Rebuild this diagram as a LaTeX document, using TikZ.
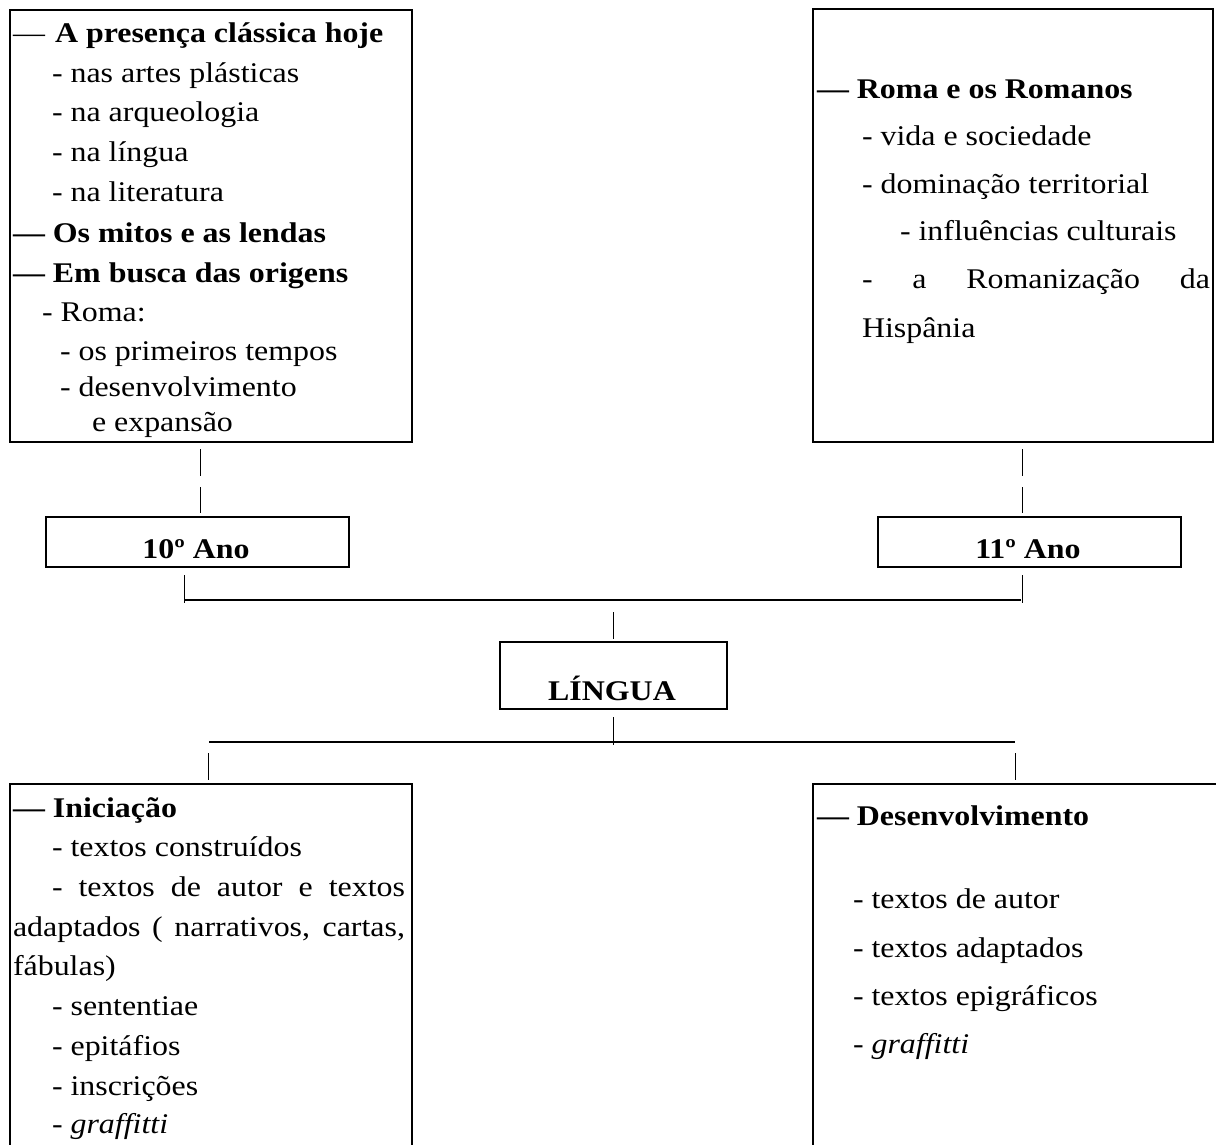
\documentclass[tikz,border=0pt]{standalone}
\usepackage{fontspec}
\setmainfont{Liberation Serif}[FakeStretch=1.12]
\begin{document}
\begin{tikzpicture}[x=1pt,y=-1pt,
  txt/.style={anchor=base west, inner sep=0pt, outer sep=0pt, font=\fontsize{28.5}{34}\selectfont},
  ctxt/.style={anchor=base, inner sep=0pt, outer sep=0pt, font=\fontsize{28.5}{34}\selectfont\bfseries},
  boxline/.style={line width=2pt},
  conn/.style={line width=0.9pt},
  bar/.style={line width=2pt}]
\useasboundingbox (0,0) rectangle (1216,1144);
% boxes
\draw[boxline] (10,10) rectangle (412,442);
\draw[boxline] (813,9) rectangle (1213,442);
\draw[boxline] (46,517) rectangle (349,567);
\draw[boxline] (878,517) rectangle (1181,567);
\draw[boxline] (500,642) rectangle (727,709);
\draw[boxline] (10,1150) -- (10,784) -- (412,784) -- (412,1150);
\draw[boxline] (813,1150) -- (813,784) -- (1220,784);
% top-left box text
\node[txt] (a0) at (13,42) {—};
\node[txt] (a1) at (55,42) {\bfseries A presença clássica hoje};
\node[txt] (a2) at (52,82) {- nas artes plásticas};
\node[txt] (a3) at (52,121) {- na arqueologia};
\node[txt] (a4) at (52,161) {- na língua};
\node[txt] (a5) at (52,201) {- na literatura};
\node[txt] (a6) at (13,242) {\bfseries — Os mitos e as lendas};
\node[txt] (a7) at (13,282) {\bfseries — Em busca das origens};
\node[txt] (a8) at (42,321) {- Roma:};
\node[txt] (a9) at (60,360) {- os primeiros tempos};
\node[txt] (a10) at (60,396) {- desenvolvimento};
\node[txt] (a11) at (92,431) {e expansão};
% top-right box text
\node[txt] (b1) at (817,98) {\bfseries — Roma e os Romanos};
\node[txt] (b2) at (862,145) {- vida e sociedade};
\node[txt] (b3) at (862,193) {- dominação territorial};
\node[txt] (b4) at (900,240) {- influências culturais};
\node[txt] (b5) at (862,288) {\makebox[348pt][s]{- a Romanização da}};
\node[txt] (b6) at (862,337) {Hispânia};
% year boxes
\node[ctxt] (y10) at (196,558) {10º Ano};
\node[ctxt] (y11) at (1028,558) {11º Ano};
\node[ctxt] (ling) at (612,700) {LÍNGUA};
% bottom-left text
\node[txt] (c1) at (13,817) {\bfseries — Iniciação};
\node[txt] (c2) at (52,856) {- textos construídos};
\node[txt] (c3) at (52,896) {\makebox[353pt][s]{- textos de autor e textos}};
\node[txt] (c4) at (13,936) {\makebox[392pt][s]{adaptados ( narrativos, cartas,}};
\node[txt] (c5) at (13,975) {fábulas)};
\node[txt] (c6) at (52,1015) {- sententiae};
\node[txt] (c7) at (52,1055) {- epitáfios};
\node[txt] (c8) at (52,1095) {- inscrições};
\node[txt] (c9) at (52,1133) {- \textit{graffitti}};
% bottom-right text
\node[txt] (d1) at (817,825) {\bfseries — Desenvolvimento};
\node[txt] (d2) at (853,908) {- textos de autor};
\node[txt] (d3) at (853,957) {- textos adaptados};
\node[txt] (d4) at (853,1005) {- textos epigráficos};
\node[txt] (d5) at (853,1053) {- \textit{graffitti}};
% connectors
\coordinate (p1a) at (200,449); \coordinate (p1b) at (200,476);
\coordinate (p1c) at (200,487); \coordinate (p1d) at (200,513);
\coordinate (p2a) at (1022,449); \coordinate (p2b) at (1022,476);
\coordinate (p2c) at (1022,487); \coordinate (p2d) at (1022,513);
\draw[conn] (p1a) -- (p1b) (p1c) -- (p1d);
\draw[conn] (p2a) -- (p2b) (p2c) -- (p2d);
\coordinate (t1l) at (184,575); \coordinate (b1l) at (184,603);
\coordinate (t1r) at (1022,575); \coordinate (b1r) at (1022,603);
\draw[conn] (t1l) -- (b1l);
\draw[conn] (t1r) -- (b1r);
\coordinate (h1l) at (185,600); \coordinate (h1r) at (1021,600);
\draw[bar] (h1l) -- (h1r);
\coordinate (m1a) at (613,612); \coordinate (m1b) at (613,639);
\draw[conn] (m1a) -- (m1b);
\coordinate (m2a) at (613,717); \coordinate (m2b) at (613,745);
\draw[conn] (m2a) -- (m2b);
\coordinate (h2l) at (209,742); \coordinate (h2r) at (1015,742);
\draw[bar] (h2l) -- (h2r);
\coordinate (l1a) at (208,753); \coordinate (l1b) at (208,780);
\coordinate (r1a) at (1015,753); \coordinate (r1b) at (1015,780);
\draw[conn] (l1a) -- (l1b);
\draw[conn] (r1a) -- (r1b);
\end{tikzpicture}
\end{document}
